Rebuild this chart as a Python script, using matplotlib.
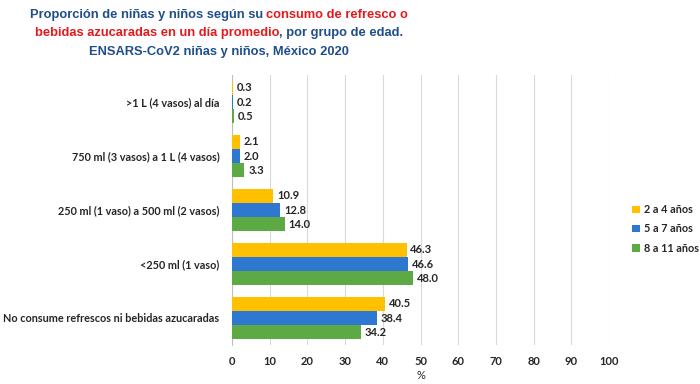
import numpy as np
import matplotlib
matplotlib.use("Agg")
import matplotlib.pyplot as plt

categories = [">1 L (4 vasos) al día",
              "750 ml (3 vasos) a 1 L (4 vasos)",
              "250 ml (1 vaso) a 500 ml (2 vasos)",
              "<250 ml (1 vaso)",
              "No consume refrescos ni bebidas azucaradas"]
series_names = ["2 a 4 años", "5 a 7 años", "8 a 11 años"]
v_2a4 = [0.3, 2.1, 10.9, 46.3, 40.5]
v_5a7 = [0.2, 2.0, 12.8, 46.6, 38.4]
v_8a11 = [0.5, 3.3, 14.0, 48.0, 34.2]
colors = ["#FFC000", "#2E78D2", "#5DAA45"]

BLUE = "#1F4E8C"
RED = "#E3191C"

fig = plt.figure(figsize=(7, 3.84), dpi=100)
ax = fig.add_axes([232/700, 1-345/384, 377/700, 270/384])

y = np.arange(len(categories))
h = 0.26
for i, (vals, name) in enumerate(zip([v_2a4, v_5a7, v_8a11], series_names)):
    pos = y + (i - 1) * h
    ax.barh(pos, vals, height=h, color=colors[i], label=name, zorder=3)
    for p, v in zip(pos, vals):
        ax.text(v + 1.0, p, f"{v:.1f}", va="center", ha="left",
                fontsize=8, fontweight="bold", family="Lato", color="#262626")

ax.set_ylim(len(categories) - 0.5, -0.5)
ax.set_xlim(0, 100)
ax.set_xticks(range(0, 101, 10))
ax.set_yticks(y)
ax.set_yticklabels(categories, fontsize=7.8, fontweight="bold", family="Lato", color="#262626")
for lab in ax.get_xticklabels():
    lab.set_fontsize(8)
    lab.set_fontweight("bold")
    lab.set_family("Lato")
    lab.set_color("#262626")
ax.tick_params(length=0, pad=8)
ax.tick_params(axis="y", pad=9)
ax.grid(axis="x", color="#D9D9D9", linewidth=0.8, zorder=0)
for s in ["top", "right", "bottom"]:
    ax.spines[s].set_visible(False)
ax.spines["left"].set_color("#BFBFBF")
ax.set_xlabel("%", fontsize=8, family="Lato", color="#262626", labelpad=2)

leg = fig.legend(loc="upper left", bbox_to_anchor=(628/700, 1-200/384), frameon=False,
                 prop={"family": "Lato", "weight": "bold", "size": 7.8},
                 handlelength=0.7, handleheight=0.7, handletextpad=0.4, labelspacing=0.75,
                 borderaxespad=0)
for t in leg.get_texts():
    t.set_color("#262626")

# title with mixed colours
tfont = dict(fontsize=9.3, fontweight="bold", family="Liberation Sans")
lines = [
    [("Proporción de niñas y niños según su ", BLUE), ("consumo de refresco o", RED)],
    [("bebidas azucaradas en un día promedio", RED), (", por grupo de edad.", BLUE)],
    [("ENSARS-CoV2 niñas y niños, México 2020", BLUE)],
]
centers_y = [15, 33, 52]
cx = 219
fig.canvas.draw()
r = fig.canvas.get_renderer()
for parts, yc in zip(lines, centers_y):
    texts = [fig.text(0, 1 - yc/384, s, color=c, va="center", ha="left", **tfont) for s, c in parts]
    widths = [t.get_window_extent(r).width for t in texts]
    x0 = cx - sum(widths) / 2
    for t, w in zip(texts, widths):
        t.set_x(x0 / 700)
        x0 += w

fig.savefig("out.png", dpi=100)
